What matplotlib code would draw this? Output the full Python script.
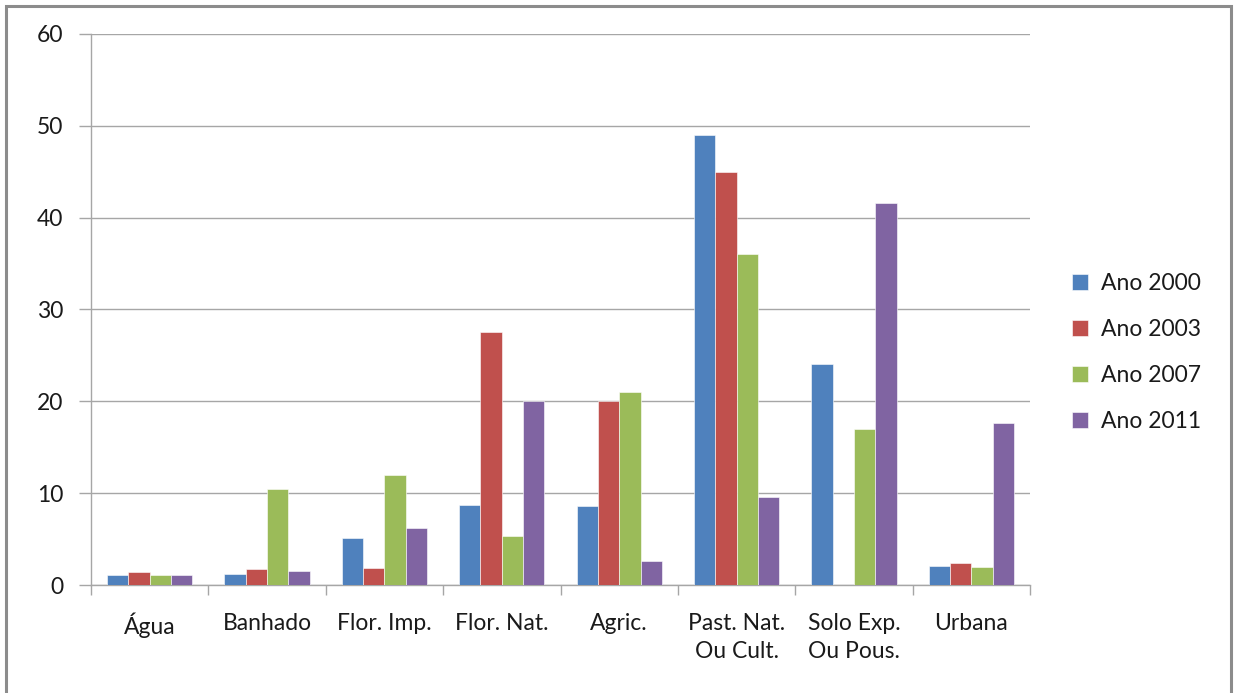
import numpy as np
import matplotlib.pyplot as plt
from matplotlib.patches import Rectangle

# ───────── DATA ─────────
categories = ['Água', 'Banhado', 'Flor. Imp.', 'Flor. Nat.', 'Agric.',
              'Past. Nat.\nOu Cult.', 'Solo Exp.\nOu Pous.', 'Urbana']
series_names = ['Ano 2000', 'Ano 2003', 'Ano 2007', 'Ano 2011']
ano_2000 = [1.1, 1.2, 5.1, 8.7, 8.55, 49.0, 24.1, 2.1]
ano_2003 = [1.4, 1.7, 1.9, 27.5, 20.0, 45.0, 0.0, 2.45]
ano_2007 = [1.1, 10.5, 12.0, 5.3, 21.0, 36.0, 17.0, 2.0]
ano_2011 = [1.1, 1.5, 6.2, 20.0, 2.6, 9.6, 41.6, 17.65]
y_ticks = [0, 10, 20, 30, 40, 50, 60]
# ────────────────────────

colors = ['#4F81BD', '#C0504D', '#9BBB59', '#8064A2']
grid_col = '#A6A6A6'
txt_col = '#1A1A1A'
fs = 16.5
plt.rcParams['font.family'] = ['Lato', 'DejaVu Sans']

fig = plt.figure(figsize=(12.35, 6.93), dpi=100)
ax = fig.add_axes([0.0737, 0.1558, 0.7603, 0.7953])

x = np.arange(len(categories))
width = 1 / 5.5          # Excel-style 150% gap width
values = [ano_2000, ano_2003, ano_2007, ano_2011]
for i, (name, vals) in enumerate(zip(series_names, values)):
    ax.bar(x + (i - 1.5) * width, vals, width, color=colors[i], label=name,
           edgecolor='white', linewidth=0.4, zorder=3)

ax.set_xlim(-0.5, len(categories) - 0.5)
ax.set_ylim(0, 60)
ax.set_yticks(y_ticks)
ax.yaxis.grid(True, color=grid_col, linewidth=1.0, zorder=0)

# category ticks sit on the boundaries, labels at the centres
ax.set_xticks(np.arange(-0.5, len(categories)), minor=False)
ax.set_xticklabels([])
ax.set_xticks(x, minor=True)
ax.set_xticklabels(categories, minor=True, fontsize=fs, color=txt_col,
                   linespacing=1.4, va='top')
ax.tick_params(axis='x', which='major', length=7, width=1, color=grid_col, direction='out')
ax.tick_params(axis='x', which='minor', length=0, pad=20)
ax.tick_params(axis='y', length=9, width=1, color=grid_col, labelsize=fs,
               labelcolor=txt_col, pad=11)

for side in ['top', 'right']:
    ax.spines[side].set_visible(False)
for side in ['left', 'bottom']:
    ax.spines[side].set_color(grid_col)
    ax.spines[side].set_linewidth(1.0)

ax.legend(loc='center left', bbox_to_anchor=(1.023, 0.422), frameon=False,
          fontsize=fs, handlelength=0.7, handleheight=0.7, handletextpad=0.55,
          labelspacing=1.08, labelcolor=txt_col)

# outer chart-area border
fig.patches.append(Rectangle((6 / 1235, -0.05), 1225 / 1235, 0.05 + 687 / 693,
                             transform=fig.transFigure, fill=False,
                             edgecolor='#8C8C8C', linewidth=2.2))

fig.savefig('out.png', dpi=100)
